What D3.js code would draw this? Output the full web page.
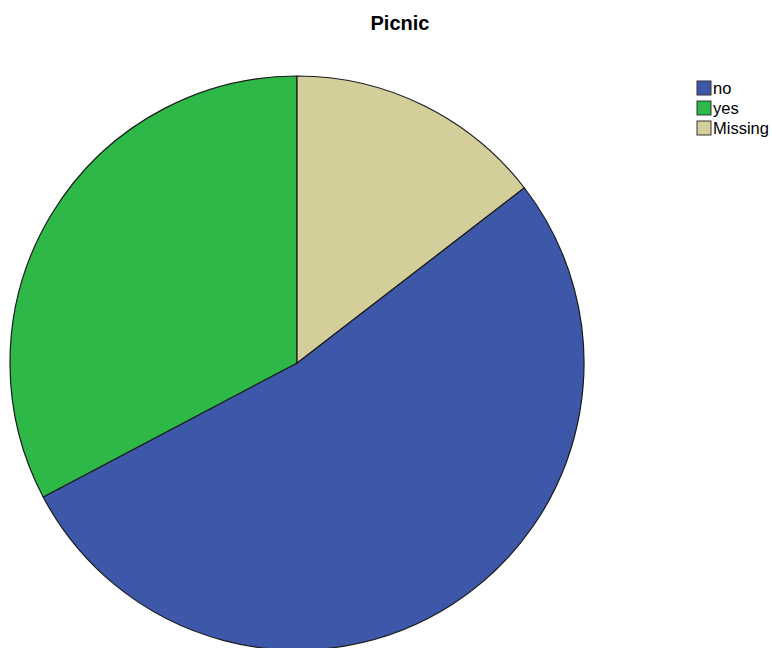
<!DOCTYPE html>
<html><head><meta charset="utf-8">
<script src="https://cdn.jsdelivr.net/npm/d3@7"></script>
<style>body{margin:0;background:#fff}svg{display:block}</style>
</head><body>
<script>
const categories = ["no", "yes", "Missing"];
const values = [29, 18, 8];
const colors = ["#3e58a9", "#2eb848", "#d4cf9a"];
const title = "Picnic";

const W = 772, H = 648;
const svg = d3.select("body").append("svg").attr("width", W).attr("height", H);

svg.append("text").attr("x", 400).attr("y", 30).attr("text-anchor", "middle")
  .attr("font-family", "Arial, 'Liberation Sans', sans-serif").attr("font-weight", "bold")
  .attr("font-size", 20).text(title);

const total = d3.sum(values);
const start = 2 * Math.PI * values[2] / total;
const pie = d3.pie().sort(null).startAngle(start).endAngle(start + 2 * Math.PI);
const arcs = pie(values);
const r = 287;
const arc = d3.arc().innerRadius(0).outerRadius(r);
const g = svg.append("g").attr("transform", "translate(297,363)");
g.selectAll("path").data(arcs).join("path")
  .attr("d", arc).attr("fill", (d, i) => colors[i])
  .attr("stroke", "#1a1a1a").attr("stroke-width", 1.2).attr("stroke-linejoin", "round");

const lg = svg.append("g").attr("transform", "translate(697,81)");
const rows = lg.selectAll("g").data(categories).join("g")
  .attr("transform", (d, i) => `translate(0,${i * 20})`);
rows.append("rect").attr("width", 14).attr("height", 14)
  .attr("fill", (d, i) => colors[i]).attr("stroke", "#333").attr("stroke-width", 1);
rows.append("text").attr("x", 16).attr("y", 12.5)
  .attr("font-family", "Arial, 'Liberation Sans', sans-serif").attr("font-size", 16.5)
  .text(d => d);
</script>
</body></html>
